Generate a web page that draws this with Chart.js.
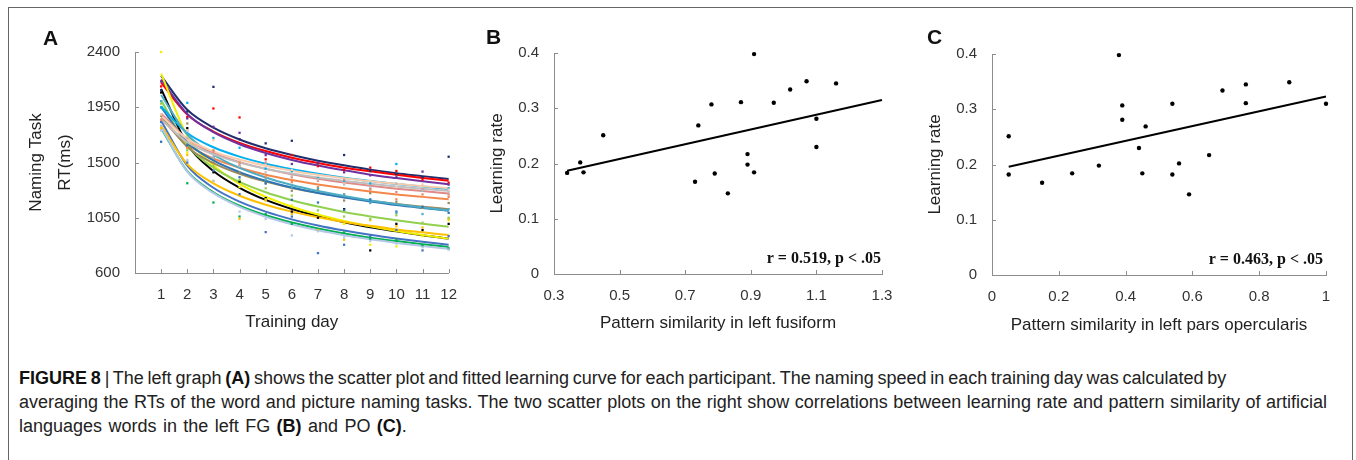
<!DOCTYPE html>
<html><head><meta charset="utf-8">
<script src="https://cdn.jsdelivr.net/npm/chart.js@4"></script>
<style>
html,body{margin:0;padding:0;background:#fff;}
#wrap{position:relative;width:1356px;height:460px;overflow:hidden;font-family:"Liberation Sans",Arial,sans-serif;}
#frame{position:absolute;left:8px;top:7px;width:1345px;height:480px;border:1px solid #666;box-sizing:border-box;}
canvas{position:absolute;}
.lbl{position:absolute;font-weight:bold;font-size:21px;color:#111;line-height:21px;}
#caption{position:absolute;left:19px;top:366px;font-size:18px;line-height:24px;color:#222;white-space:nowrap;}
#caption b{color:#111;}
#caption span{display:block;}
</style></head>
<body>
<div id="wrap">
<div id="frame"></div>
<canvas id="cA" width="470" height="345" style="left:0;top:0"></canvas>
<canvas id="cB" width="440" height="345" style="left:470px;top:0"></canvas>
<canvas id="cC" width="446" height="345" style="left:910px;top:0"></canvas>
<div class="lbl" style="left:43px;top:27px">A</div>
<div class="lbl" style="left:486px;top:26px">B</div>
<div class="lbl" style="left:927px;top:26px">C</div>
<div id="caption"><span style="word-spacing:-1.2px"><b>FIGURE 8</b> | The left graph <b>(A)</b> shows the scatter plot and fitted learning curve for each participant. The naming speed in each training day was calculated by</span><span style="word-spacing:0.5px">averaging the RTs of the word and picture naming tasks. The two scatter plots on the right show correlations between learning rate and pattern similarity of artificial</span><span style="word-spacing:1.4px">languages words in the left FG <b>(B)</b> and PO <b>(C)</b>.</span></div>
</div>
<script>
// ---------- Panel A data ----------
const days = [1,2,3,4,5,6,7,8,9,10,11,12];
const rtTicks = [600,1050,1500,1950,2400];

const fitNavy   = [2205,1929,1784,1687,1616,1561,1515,1477,1442,1413,1389,1365];
const obsNavy   = [2090,1915,2116,1690,1656,1677,1493,1561,1430,1405,1380,1547];
const fitRed    = [2150,1890,1752,1660,1593,1539,1496,1458,1428,1400,1374,1352];
const obsRed    = [2120,1870,1940,1867,1526,1561,1470,1440,1458,1431,1360,1336];
const fitPurple = [2176,1895,1747,1649,1578,1521,1475,1436,1401,1373,1347,1323];
const obsPurple = [2160,1859,1791,1742,1560,1488,1500,1420,1395,1380,1426,1320];
const fitCyan   = [1956,1740,1624,1548,1490,1445,1408,1376,1349,1325,1304,1285];
const obsCyan   = [1950,1986,1700,1620,1450,1430,1380,1350,1330,1488,1270,1290];
const fitPeach  = [1880,1692,1591,1524,1473,1433,1400,1372,1347,1326,1307,1290];
const obsPeach  = [1890,1760,1683,1520,1480,1440,1390,1330,1350,1300,1320,1280];
const fitRose   = [1900,1690,1578,1503,1448,1404,1367,1337,1311,1287,1267,1248];
const obsRose   = [1850,1700,1588,1480,1500,1380,1350,1360,1290,1260,1280,1240];
const fitOrange = [1860,1646,1533,1457,1401,1357,1321,1290,1263,1240,1220,1201];
const obsOrange = [1840,1620,1600,1500,1380,1340,1300,1240,1280,1200,1240,1220];
const fitGray   = [1850,1665,1566,1499,1449,1410,1377,1350,1326,1305,1286,1269];
const obsGray   = [1800,1700,1540,1470,1420,1390,1360,1320,1300,1330,1270,1260];
const fitSteel  = [1950,1665,1517,1422,1351,1296,1251,1214,1182,1153,1129,1107];
const obsSteel  = [1669,1640,1540,1380,1330,1196,1174,1114,1200,1100,1140,1090];
const fitTeal   = [2050,1728,1563,1456,1378,1317,1268,1227,1191,1161,1134,1110];
const obsTeal   = [2000,1760,1540,1470,1360,1300,1290,1240,1170,1090,1080,1120];
const fitOlive  = [1880,1627,1495,1408,1344,1293,1253,1219,1189,1163,1140,1120];
const obsOlive  = [1880,1818,1500,1420,1330,1270,1280,1190,1250,1180,1130,1170];
const fitLime   = [2006,1641,1458,1342,1258,1193,1141,1097,1061,1029,1001,976];
const obsLime   = [1980,1600,1470,1360,1290,1230,1110,1060,1040,1070,1010,1050];
const fitGold   = [1800,1487,1330,1229,1156,1100,1054,1016,984,955,931,909];
const obsGold   = [1780,1561,1350,1041,1190,1080,950,871,1030,980,971,1040];
const fitYellow = [2224,1717,1477,1326,1221,1140,1076,1024,980,942,909,880];
const obsYellow = [2400,1580,1470,1300,1200,1150,1080,1000,830,817,900,1030];
const fitBlack  = [2100,1648,1430,1294,1195,1121,1063,1014,972,939,907,880];
const obsBlack  = [2070,1780,1420,1344,1210,1100,1050,1120,784,1000,950,1000];
const fitBlue   = [1840,1474,1294,1181,1100,1037,987,946,911,881,854,831];
const obsBlue   = [1830,1500,1434,1242,933,1060,762,830,900,950,784,900];
const fitGreen  = [1780,1429,1258,1148,1070,1011,963,922,888,860,835,812];
const obsGreen  = [1950,1331,1174,1060,1080,1000,950,930,880,870,820,800];
const fitLav    = [1790,1425,1250,1138,1058,997,948,908,874,845,819,797];
const obsLav    = [1760,1520,1350,1100,1040,906,940,890,860,840,810,790];

// ---------- Panel B data ----------
const xTicksB = [0.3,0.5,0.7,0.9,1.1,1.3];
const yTicksRate = [0,0.1,0.2,0.3,0.4];
const simFG  = [0.34,0.38,0.39,0.45,0.73,0.74,0.78,0.79,0.83,0.87,0.89,0.89,0.91,0.91,0.97,1.02,1.07,1.10,1.10,1.16];
const rateFG = [0.183,0.202,0.184,0.251,0.167,0.269,0.307,0.182,0.146,0.311,0.217,0.198,0.398,0.184,0.310,0.334,0.349,0.281,0.230,0.345];
const fitXFG = [0.34,1.30];
const fitYFG = [0.187,0.315];
const noteB = 'r = 0.519, p < .05';

// ---------- Panel C data ----------
const xTicksC = [0,0.2,0.4,0.6,0.8,1];
const simPO  = [0.05,0.05,0.15,0.24,0.32,0.38,0.39,0.39,0.44,0.45,0.46,0.54,0.54,0.56,0.59,0.65,0.69,0.76,0.76,0.89,1.00];
const ratePO = [0.251,0.182,0.167,0.184,0.198,0.398,0.307,0.281,0.230,0.184,0.269,0.310,0.182,0.202,0.146,0.217,0.334,0.345,0.311,0.349,0.310];
const fitXPO = [0.05,1.00];
const fitYPO = [0.196,0.323];
const noteC = 'r = 0.463, p < .05';

// ---------- rendering ----------
const FAM = "'Liberation Sans', Arial, sans-serif";
const AXIS = '#8c8c8c';

const insideTicks = {
  id: 'insideTicks',
  afterDraw(chart, args, opts) {
    const {ctx, chartArea: a} = chart;
    const x = chart.scales.x, y = chart.scales.y;
    ctx.save();
    ctx.strokeStyle = AXIS; ctx.lineWidth = 1;
    ctx.beginPath();
    x.ticks.forEach(t => { const px = Math.round(x.getPixelForValue(t.value)) + 0.5; ctx.moveTo(px, a.bottom); ctx.lineTo(px, a.bottom - 4); });
    y.ticks.forEach(t => { const py = Math.round(y.getPixelForValue(t.value)) + 0.5; ctx.moveTo(a.left, py); ctx.lineTo(a.left + 4, py); });
    ctx.stroke();
    if (opts && opts.note) {
      ctx.font = 'bold 16px "Liberation Serif", "Times New Roman", serif';
      ctx.fillStyle = '#111'; ctx.textAlign = 'right'; ctx.textBaseline = 'alphabetic';
      ctx.fillText(opts.note, a.right + (opts.dx || 0), a.bottom - 11);
    }
    ctx.restore();
  }
};

function pts(xs, ys) { return xs.map((v, i) => ({x: v, y: ys[i]})); }
function fixedTicks(list) { return s => { s.ticks = list.map(v => ({value: v})); }; }
const plain = v => String(v);

function axisX(min, max, list, title, tpad) {
  return {
    type: 'linear', min, max,
    afterBuildTicks: fixedTicks(list),
    afterFit: s => { s.height = 65; },
    grid: {display: false, drawTicks: false},
    border: {display: true, color: AXIS, width: 1},
    ticks: {padding: 13, color: '#333', autoSkip: false, maxRotation: 0, font: {family: FAM, size: 15}, callback: plain},
    title: {display: true, text: title, color: '#222', font: {family: FAM, size: 17}, padding: {top: 0, bottom: tpad}}
  };
}
function axisY(min, max, list, title, width, tpad, lh) {
  return {
    type: 'linear', min, max,
    afterBuildTicks: fixedTicks(list),
    afterFit: s => { s.width = width; },
    grid: {display: false, drawTicks: false},
    border: {display: true, color: AXIS, width: 1},
    ticks: {padding: 15, color: '#333', font: {family: FAM, size: 15}, callback: plain},
    title: {display: true, text: title, color: '#222', font: {family: FAM, size: 17, lineHeight: lh || 1.2}, padding: {top: tpad, bottom: 0}}
  };
}

const base = {responsive: false, animation: false, devicePixelRatio: 1, events: []};

// Panel A
const curves = [
  [fitLav, obsLav, '#b4c7e7'], [fitGray, obsGray, '#bfbfbf'], [fitPeach, obsPeach, '#f8cbad'],
  [fitRose, obsRose, '#e08a8a'], [fitTeal, obsTeal, '#4bacc6'], [fitCyan, obsCyan, '#00b0f0'],
  [fitSteel, obsSteel, '#2e75b6'], [fitOlive, obsOlive, '#9c8b5a'], [fitLime, obsLime, '#92d050'],
  [fitGold, obsGold, '#ffc000'], [fitBlue, obsBlue, '#4472c4'], [fitGreen, obsGreen, '#00b050'],
  [fitYellow, obsYellow, '#f0f000'], [fitBlack, obsBlack, '#000000'], [fitOrange, obsOrange, '#f4874b'],
  [fitPurple, obsPurple, '#7030a0'], [fitRed, obsRed, '#ff0000'], [fitNavy, obsNavy, '#1f2f6e']
];
const dsA = [];
curves.forEach(([fit, obs, col]) => {
  dsA.push({data: pts(days, obs), showLine: false, pointStyle: 'rect', pointRadius: 1.6, backgroundColor: col, borderWidth: 0, order: 1, clip: false});
});
curves.forEach(([fit, obs, col]) => {
  dsA.push({data: pts(days, fit), showLine: true, borderColor: col, borderWidth: 2, pointRadius: 0, cubicInterpolationMode: 'monotone', fill: false, order: 2, clip: false});
});

new Chart(document.getElementById('cA'), {
  type: 'scatter',
  data: {datasets: dsA},
  plugins: [insideTicks],
  options: Object.assign({}, base, {
    layout: {padding: {left: 0, top: 52, right: 18, bottom: 7}},
    plugins: {legend: {display: false}, tooltip: {enabled: false}, insideTicks: {}},
    scales: {
      x: axisX(0, 12, days, 'Training day', 5),
      y: axisY(600, 2400, rtTicks, ['Naming Task', 'RT(ms)'], 135, 22, 1.706)
    }
  })
});

// Panel B
new Chart(document.getElementById('cB'), {
  type: 'scatter',
  data: {datasets: [
    {data: pts(simFG, rateFG), pointRadius: 2.2, backgroundColor: '#000', borderWidth: 0, clip: false},
    {data: pts(fitXFG, fitYFG), showLine: true, borderColor: '#000', borderWidth: 2, pointRadius: 0, clip: false}
  ]},
  plugins: [insideTicks],
  options: Object.assign({}, base, {
    layout: {padding: {left: 0, top: 53, right: 28, bottom: 6}},
    plugins: {legend: {display: false}, tooltip: {enabled: false}, insideTicks: {note: noteB, dx: -1}},
    scales: {
      x: axisX(0.3, 1.3, xTicksB, 'Pattern similarity in left fusiform', 5.5),
      y: axisY(0, 0.4, yTicksRate, 'Learning rate', 84, 17)
    }
  })
});

// Panel C
new Chart(document.getElementById('cC'), {
  type: 'scatter',
  data: {datasets: [
    {data: pts(simPO, ratePO), pointRadius: 2.2, backgroundColor: '#000', borderWidth: 0, clip: false},
    {data: pts(fitXPO, fitYPO), showLine: true, borderColor: '#000', borderWidth: 2, pointRadius: 0, clip: false}
  ]},
  plugins: [insideTicks],
  options: Object.assign({}, base, {
    layout: {padding: {left: 0, top: 54, right: 30, bottom: 5}},
    plugins: {legend: {display: false}, tooltip: {enabled: false}, insideTicks: {note: noteC, dx: -3}},
    scales: {
      x: axisX(0, 1, xTicksC, 'Pattern similarity in left pars opercularis', 4.8),
      y: axisY(0, 0.4, yTicksRate, 'Learning rate', 82, 15)
    }
  })
});
</script>
</body></html>
